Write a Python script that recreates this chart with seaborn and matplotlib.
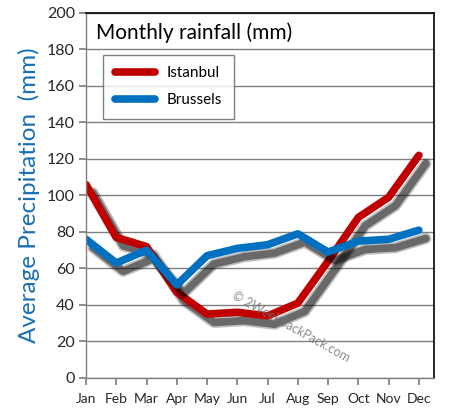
import matplotlib
matplotlib.use("Agg")
import matplotlib.pyplot as plt
import matplotlib.patheffects as pe
import pandas as pd
import seaborn as sns

months = ["Jan", "Feb", "Mar", "Apr", "May", "Jun",
          "Jul", "Aug", "Sep", "Oct", "Nov", "Dec"]
istanbul = [106, 77, 72, 47, 35, 36, 34, 41, 64, 88, 99, 122]
brussels = [76, 63, 70, 51, 67, 71, 73, 79, 69, 75, 76, 81]
y_ticks = list(range(0, 201, 20))

sns.set_theme(style="white")
plt.rcParams["font.family"] = ["Lato", "DejaVu Sans"]

df = pd.DataFrame({
    "month": list(range(len(months))) * 2,
    "rain": istanbul + brussels,
    "city": ["Istanbul"] * 12 + ["Brussels"] * 12,
})

fig = plt.figure(figsize=(4.54, 4.19), dpi=100)
ax = fig.add_axes([0.1894, 0.0979, 0.7666, 0.8711])

# soft-ish drop shadow: a couple of stacked offsets
shadow = [pe.SimpleLineShadow(offset=(5, -6), shadow_color="black", alpha=0.25, linewidth=8),
          pe.SimpleLineShadow(offset=(5, -6), shadow_color="black", alpha=0.45),
          pe.Normal()]
sns.lineplot(data=df, x="month", y="rain", hue="city",
             palette={"Istanbul": "#c00000", "Brussels": "#0070c0"},
             linewidth=5.5, ax=ax, legend=False)
for line in ax.lines:
    line.set_solid_capstyle("round")
    line.set_solid_joinstyle("round")
    line.set_path_effects(shadow)

ax.set_xlim(0, 11.5)
ax.set_ylim(0, 200)
ax.set_yticks(y_ticks)
ax.set_xticks(range(12))
ax.set_xticklabels(months, fontsize=10)
ax.tick_params(axis="y", labelsize=11.5, length=5, color="#808080", direction="out", left=True, pad=3)
ax.tick_params(axis="x", length=5, color="#808080", direction="out", bottom=True, pad=6)
ax.grid(axis="y", color="#808080", linewidth=1)
ax.set_axisbelow(True)
ax.set_xlabel("")
ax.set_ylabel("Average Precipitation  (mm)", color="#1a6fb5", fontsize=17.5, labelpad=5)

for side in ["left", "bottom"]:
    ax.spines[side].set_color("#808080")
    ax.spines[side].set_linewidth(1)
for side in ["top", "right"]:
    ax.spines[side].set_color("black")
    ax.spines[side].set_linewidth(1.2)

ax.text(0.03, 0.975, "Monthly rainfall (mm)", transform=ax.transAxes,
        fontsize=15, va="top", ha="left", color="black")

# watermark
ax.text(0.59, 0.14, "© 2WeekBackPack.com", transform=ax.transAxes,
        fontsize=9, rotation=-29, ha="center", va="center",
        color="#707070", alpha=0.8)

handles = [plt.Line2D([], [], color="#c00000", lw=5.5, solid_capstyle="round"),
           plt.Line2D([], [], color="#0070c0", lw=5.5, solid_capstyle="round")]
leg = ax.legend(handles, ["Istanbul", "Brussels"], loc="upper left",
                bbox_to_anchor=(0.05, 0.885), fontsize=11, frameon=True,
                fancybox=False, edgecolor="#606060", handlelength=2.6,
                borderpad=0.75, labelspacing=0.85, handletextpad=0.8,
                borderaxespad=0)
leg.get_frame().set_linewidth(1)
leg.get_frame().set_width  # keep default frame
for t in leg.get_texts():
    t.set_color("black")

fig.savefig("out.png", dpi=100)
